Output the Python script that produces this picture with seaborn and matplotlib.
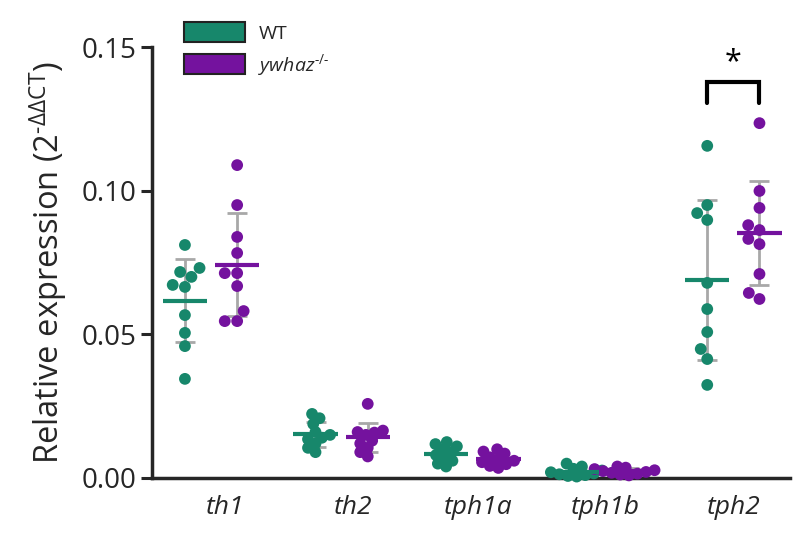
import numpy as np
import pandas as pd
import matplotlib
matplotlib.use("Agg")
import matplotlib.pyplot as plt
import matplotlib.transforms as mtransforms
import seaborn as sns
from matplotlib.patches import Patch

genes = ["th1", "th2", "tph1a", "tph1b", "tph2"]
groups = ["WT", "ywhaz"]

wt_th1 = [0.0811, 0.0731, 0.0717, 0.0700, 0.0672, 0.0665, 0.0567, 0.0505, 0.0459, 0.0345]
ko_th1 = [0.1089, 0.0950, 0.0839, 0.0783, 0.0713, 0.0713, 0.0668, 0.0581, 0.0546, 0.0546]
wt_th2 = [0.0223, 0.0208, 0.0188, 0.0160, 0.0150, 0.0140, 0.0135, 0.0120, 0.0105, 0.0090]
ko_th2 = [0.0258, 0.0165, 0.0160, 0.0158, 0.0150, 0.0130, 0.0120, 0.0105, 0.0090, 0.0075]
wt_tph1a = [0.0125, 0.0118, 0.0110, 0.0100, 0.0090, 0.0080, 0.0070, 0.0060, 0.0050, 0.0040]
ko_tph1a = [0.0100, 0.0092, 0.0085, 0.0072, 0.0065, 0.0060, 0.0055, 0.0048, 0.0042, 0.0035]
wt_tph1b = [0.0050, 0.0040, 0.0032, 0.0026, 0.0020, 0.0016, 0.0013, 0.0010, 0.0007, 0.0005]
ko_tph1b = [0.0040, 0.0036, 0.0031, 0.0027, 0.0024, 0.0021, 0.0018, 0.0015, 0.0012, 0.0009]
wt_tph2 = [0.1156, 0.0950, 0.0922, 0.0898, 0.0679, 0.0588, 0.0508, 0.0449, 0.0414, 0.0324]
ko_tph2 = [0.1235, 0.0999, 0.0940, 0.0880, 0.0863, 0.0832, 0.0814, 0.0710, 0.0644, 0.0623]

wt_all = [wt_th1, wt_th2, wt_tph1a, wt_tph1b, wt_tph2]
ko_all = [ko_th1, ko_th2, ko_tph1a, ko_tph1b, ko_tph2]

rows = []
for g, w, k in zip(genes, wt_all, ko_all):
    rows += [(g, "WT", v) for v in w]
    rows += [(g, "ywhaz", v) for v in k]
df = pd.DataFrame(rows, columns=["gene", "genotype", "value"])

green = "#17876b"
purple = "#74129e"
pal = {"WT": green, "ywhaz": purple}

sns.set_style("ticks")
plt.rcParams["font.family"] = ["Open Sans", "DejaVu Sans"]
plt.rcParams["mathtext.fontset"] = "custom"
plt.rcParams["mathtext.rm"] = "Open Sans"
plt.rcParams["mathtext.it"] = "Open Sans:italic"

fig = plt.figure(figsize=(7.98, 5.33), dpi=100)
ax = fig.add_axes([0.1905, 0.1032, 0.80, 0.8086])

# swarm laid out with one dot size, then drawn at the final size (dots overlap like the original)
big = df[df["gene"].isin(["th1", "tph2"])]
small = df[~df["gene"].isin(["th1", "tph2"])]
for part, lay in [(big, 8.5), (small, 6.0)]:
    sns.swarmplot(data=part, x="gene", y="value", hue="genotype", order=genes,
                  hue_order=groups, palette=pal, dodge=True, size=lay,
                  linewidth=0, zorder=3, legend=False, ax=ax, warn_thresh=1)
ax.set_xlim(-0.452, 4.437)
ax.set_ylim(0, 0.15)
fig.canvas.draw()  # fixes the swarm layout
for c in ax.collections:
    if "draw" in c.__dict__:
        del c.draw
    c.set_clip_on(False)
    c.set_sizes([72])

# mean +/- SD
stats = df.groupby(["gene", "genotype"])["value"].agg(["mean", "std"])
for i, g in enumerate(genes):
    for j, grp in enumerate(groups):
        x = i + (-0.2 if j == 0 else 0.2)
        m, s = stats.loc[(g, grp)]
        ax.errorbar(x, m, yerr=s, fmt="none", ecolor="#a8a8a8", elinewidth=2,
                    capsize=7, capthick=2, zorder=2)
        ax.hlines(m, x - 0.17, x + 0.17, color=pal[grp], lw=3, zorder=4)

# significance bracket on tph2
xa, xb = 4 - 0.2, 4 + 0.2
ax.plot([xa, xa, xb, xb], [0.1305, 0.1378, 0.1378, 0.1305], color="black", lw=3,
        solid_joinstyle="miter", zorder=5)
ax.text(4, 0.1395, "*", ha="center", va="bottom", fontsize=22, color="black")

ax.set_xlim(-0.452, 4.437)
ax.set_ylim(0, 0.15)
ax.set_yticks([0, 0.05, 0.10, 0.15])
ax.set_yticklabels(["0.00", "0.05", "0.10", "0.15"])
ax.set_xticks(range(len(genes)))
ax.set_xticklabels(genes, fontstyle="italic")
ax.tick_params(axis="x", length=0, labelsize=19, pad=12)
ax.tick_params(axis="y", length=8, width=2.2, labelsize=20, pad=3)
label_shift = [14, 11, 6, 3, 0]
for lab, dx in zip(ax.get_xticklabels(), label_shift):
    lab.set_transform(lab.get_transform() + mtransforms.ScaledTranslation(dx / 100, 0, fig.dpi_scale_trans))
ax.set_xlabel("")
ax.set_ylabel(r"Relative expression (2$^{\text{-}\Delta\Delta \mathrm{CT}}$)", fontsize=23.5, labelpad=9)
sns.despine(ax=ax)
for sp in ["left", "bottom"]:
    ax.spines[sp].set_linewidth(2.5)

handles = [Patch(facecolor=green, edgecolor="#222222", linewidth=1.5),
           Patch(facecolor=purple, edgecolor="#222222", linewidth=1.5)]
fig.legend(handles, ["WT", r"$\mathit{ywhaz}^{\text{-/-}}$"], loc="upper left",
           bbox_to_anchor=(0.219, 0.977), frameon=False, fontsize=14,
           handlelength=3.1, handleheight=1.24, labelspacing=0.46,
           handletextpad=0.7, borderpad=0)

fig.savefig("out.png", dpi=100)
